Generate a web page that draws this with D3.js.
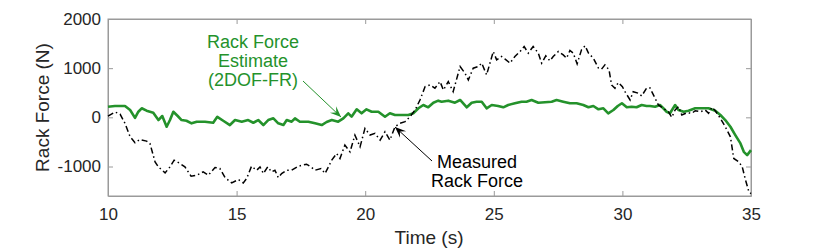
<!DOCTYPE html>
<html>
<head>
<meta charset="utf-8">
<script src="https://cdn.jsdelivr.net/npm/d3@7"></script>
<style>
  body { margin: 0; background: #fff; }
  svg { font-family: "Liberation Sans", Arial, sans-serif; }
</style>
</head>
<body>
<svg width="830" height="249"></svg>
<script>
// measured rack force (black dash-dot)
const measuredT = [10.0, 10.27, 10.47, 10.66, 10.86, 11.05, 11.24, 11.5, 11.63, 11.83, 11.96, 12.22, 12.41, 12.57, 12.8, 12.99, 13.23, 13.45, 13.7, 13.9, 14.16, 14.35, 14.55, 14.81, 15.07, 15.26, 15.39, 15.58, 15.78, 15.91, 16.04, 16.21, 16.36, 16.49, 16.62, 16.75, 16.95, 17.14, 17.4, 17.72, 17.92, 18.05, 18.28, 18.44, 18.7, 18.89, 19.02, 19.21, 19.41, 19.6, 19.8, 19.99, 20.19, 20.38, 20.58, 20.77, 20.96, 21.16, 21.35, 21.55, 21.74, 21.94, 22.13, 22.33, 22.52, 22.71, 22.91, 23.04, 23.23, 23.42, 23.69, 23.88, 24.01, 24.2, 24.4, 24.53, 24.72, 24.98, 25.11, 25.3, 25.44, 25.63, 25.82, 26.02, 26.18, 26.34, 26.53, 26.73, 26.86, 27.02, 27.18, 27.31, 27.51, 27.7, 27.83, 27.96, 28.09, 28.24, 28.41, 28.55, 28.68, 28.87, 29.07, 29.19, 29.32, 29.48, 29.58, 29.71, 29.84, 30.0, 30.1, 30.3, 30.42, 30.62, 30.75, 30.94, 31.07, 31.27, 31.4, 31.59, 31.79, 31.92, 32.05, 32.18, 32.31, 32.51, 32.7, 32.83, 33.03, 33.22, 33.35, 33.48, 33.61, 33.81, 34.0, 34.2, 34.33, 34.53, 34.66, 34.79, 34.92, 35.0];
const measuredF = [25, 108, 67, -122, -395, -518, -450, -484, -530, -906, -1008, -1130, -1008, -871, -939, -1008, -1198, -1178, -1110, -1178, -1020, -1041, -1225, -1334, -1265, -1334, -1245, -994, -1076, -1008, -1143, -1008, -1110, -1076, -1225, -1143, -1076, -1076, -994, -953, -1020, -1076, -1041, -1143, -871, -735, -837, -565, -702, -361, -600, -224, -361, -327, -463, -294, -463, -191, -122, -89, 13, 149, 353, 625, 659, 592, 727, 557, 727, 522, 1033, 898, 761, 1000, 1033, 1102, 863, 1339, 1169, 1237, 1184, 1102, 1237, 1339, 1441, 1306, 1441, 1306, 1102, 1250, 1150, 1237, 1339, 1271, 1204, 1359, 1306, 1088, 1373, 1455, 1306, 1204, 1000, 980, 1067, 965, 659, 592, 706, 625, 522, 353, 522, 490, 435, 592, 600, 388, 251, 184, 114, 0, 149, 216, 47, 94, 82, 135, 114, 149, 82, 204, 135, -20, -192, -396, -837, -906, -1008, -1280, -1518, -1551];

// estimate 2DOF-FR (green)
const estimateT = [10.0, 10.27, 10.66, 10.86, 11.05, 11.18, 11.31, 11.5, 11.76, 11.96, 12.11, 12.28, 12.41, 12.54, 12.71, 12.86, 13.05, 13.25, 13.45, 13.77, 14.09, 14.25, 14.48, 14.74, 14.94, 15.2, 15.45, 15.65, 15.84, 16.04, 16.23, 16.43, 16.62, 16.82, 16.95, 17.14, 17.27, 17.46, 17.79, 18.05, 18.31, 18.5, 18.7, 18.95, 19.15, 19.34, 19.47, 19.67, 19.86, 20.05, 20.25, 20.51, 20.77, 20.96, 21.16, 21.42, 21.68, 21.87, 22.07, 22.26, 22.45, 22.65, 22.84, 22.97, 23.23, 23.49, 23.69, 23.95, 24.14, 24.33, 24.53, 24.72, 24.92, 25.17, 25.37, 25.56, 25.82, 26.08, 26.27, 26.47, 26.73, 26.99, 27.25, 27.44, 27.7, 27.96, 28.22, 28.48, 28.68, 28.87, 29.07, 29.26, 29.45, 29.65, 29.82, 29.98, 30.17, 30.36, 30.55, 30.75, 30.94, 31.07, 31.27, 31.46, 31.59, 31.72, 31.85, 32.05, 32.18, 32.38, 32.57, 32.83, 33.09, 33.35, 33.61, 33.81, 34.0, 34.2, 34.39, 34.59, 34.72, 34.85, 35.0];
const estimateF = [216, 231, 231, 149, -10, 114, 184, 135, 94, -55, 27, -192, -55, 114, 27, -55, -69, -122, -89, -89, -110, 10, -69, -157, -55, -89, -55, -110, -55, -157, -55, -20, -122, -157, -55, -89, -20, -89, -89, -122, -157, -95, -55, -89, -20, 82, 13, 163, 82, 163, 114, 114, 13, 82, 47, 47, 47, 82, 184, 251, 204, 298, 339, 318, 339, 298, 353, 204, 298, 318, 318, 184, 251, 231, 204, 251, 286, 318, 318, 353, 298, 308, 318, 353, 318, 286, 286, 251, 204, 231, 163, 184, 82, 149, 231, 286, 204, 216, 204, 251, 231, 231, 216, 251, 184, 114, 82, 251, 149, 114, 135, 184, 184, 184, 135, 47, -55, -192, -361, -531, -702, -769, -667];

const xTicks = [10, 15, 20, 25, 30, 35];
const yTicks = [-1000, 0, 1000, 2000];

const svg = d3.select("svg");
const margin = {top: 19, right: 79, bottom: 53, left: 108};
const width = +svg.attr("width") - margin.left - margin.right,
    height = +svg.attr("height") - margin.top - margin.bottom;

const green = "#24922b";
const axisGrey = "#9a9a9a";
const textCol = "#262626";

const x = d3.scaleLinear().domain([10, 35]).range([0, width]);
const y = d3.scaleLinear().domain([-1600, 2000]).range([height, 0]);

const g = svg.append("g").attr("transform", `translate(${margin.left},${margin.top})`);

// axes (ticks point inward, mirrored on top/right)
g.append("g").attr("transform", `translate(0,${height})`)
    .call(d3.axisBottom(x).tickValues(xTicks).tickSizeInner(-5).tickSizeOuter(0).tickPadding(12)
        .tickFormat(d => String(d)));
g.append("g")
    .call(d3.axisLeft(y).tickValues(yTicks).tickSizeInner(-5).tickSizeOuter(0).tickPadding(7)
        .tickFormat(d => String(d)));
g.append("g").call(d3.axisTop(x).tickValues(xTicks).tickSizeInner(-5).tickSizeOuter(0).tickFormat(""));
g.append("g").attr("transform", `translate(${width},0)`)
    .call(d3.axisRight(y).tickValues(yTicks).tickSizeInner(-5).tickSizeOuter(0).tickFormat(""));

g.selectAll(".domain").attr("stroke", axisGrey);
g.selectAll(".tick line").attr("stroke", axisGrey);
g.selectAll(".tick text").attr("fill", textCol).style("font-size", "17px")
    .style("font-family", "'Liberation Sans', Arial, sans-serif");

// box
g.append("rect").attr("x", 0).attr("y", 0).attr("width", width).attr("height", height)
    .attr("fill", "none").attr("stroke", axisGrey);

g.append("clipPath").attr("id", "clip")
    .append("rect").attr("x", -2).attr("y", -2).attr("width", width + 4).attr("height", height + 4);

g.append("path").datum(estimateF)
    .attr("clip-path", "url(#clip)")
    .attr("fill", "none").attr("stroke", green).attr("stroke-width", 2.6)
    .attr("stroke-linejoin", "round")
    .attr("d", d3.line().x((d, i) => x(estimateT[i])).y(d => y(d)));

g.append("path").datum(measuredF)
    .attr("clip-path", "url(#clip)")
    .attr("fill", "none").attr("stroke", "#000").attr("stroke-width", 1.5)
    .attr("stroke-dasharray", "6,3,1.5,3")
    .attr("d", d3.line().x((d, i) => x(measuredT[i])).y(d => y(d)));

// axis labels
svg.append("text").attr("x", 429).attr("y", 244).attr("text-anchor", "middle")
    .attr("fill", textCol).style("font-size", "19px").text("Time (s)");
svg.append("text").attr("transform", "translate(49,107.5) rotate(-90)").attr("text-anchor", "middle")
    .attr("fill", textCol).style("font-size", "19px").text("Rack Force (N)");

// annotations
function arrow(x1, y1, x2, y2, col) {
    svg.append("line").attr("x1", x1).attr("y1", y1).attr("x2", x2).attr("y2", y2)
        .attr("stroke", col).attr("stroke-width", 1);
    const a = Math.atan2(y2 - y1, x2 - x1), L = 11, W = 4.5;
    const bx = x2 - L * Math.cos(a), by = y2 - L * Math.sin(a);
    const nx = x2 - L * 0.6 * Math.cos(a), ny = y2 - L * 0.6 * Math.sin(a);
    const px = -Math.sin(a) * W, py = Math.cos(a) * W;
    svg.append("path")
        .attr("d", `M${x2},${y2}L${bx + px},${by + py}L${nx},${ny}L${bx - px},${by - py}Z`)
        .attr("fill", col);
}

arrow(303, 81, 341, 117, green);
arrow(432, 161, 395, 127, "#000");

const estLabel = ["Rack Force", "Estimate", "(2DOF-FR)"];
svg.append("g").selectAll("text").data(estLabel).join("text")
    .attr("x", 253).attr("y", (d, i) => 48 + i * 19)
    .attr("text-anchor", "middle").attr("fill", green).style("font-size", "18px")
    .text(d => d);

const measLabel = ["Measured", "Rack Force"];
svg.append("g").selectAll("text").data(measLabel).join("text")
    .attr("x", 477).attr("y", (d, i) => 168 + i * 19)
    .attr("text-anchor", "middle").attr("fill", "#000").style("font-size", "18px")
    .text(d => d);
</script>
</body>
</html>
